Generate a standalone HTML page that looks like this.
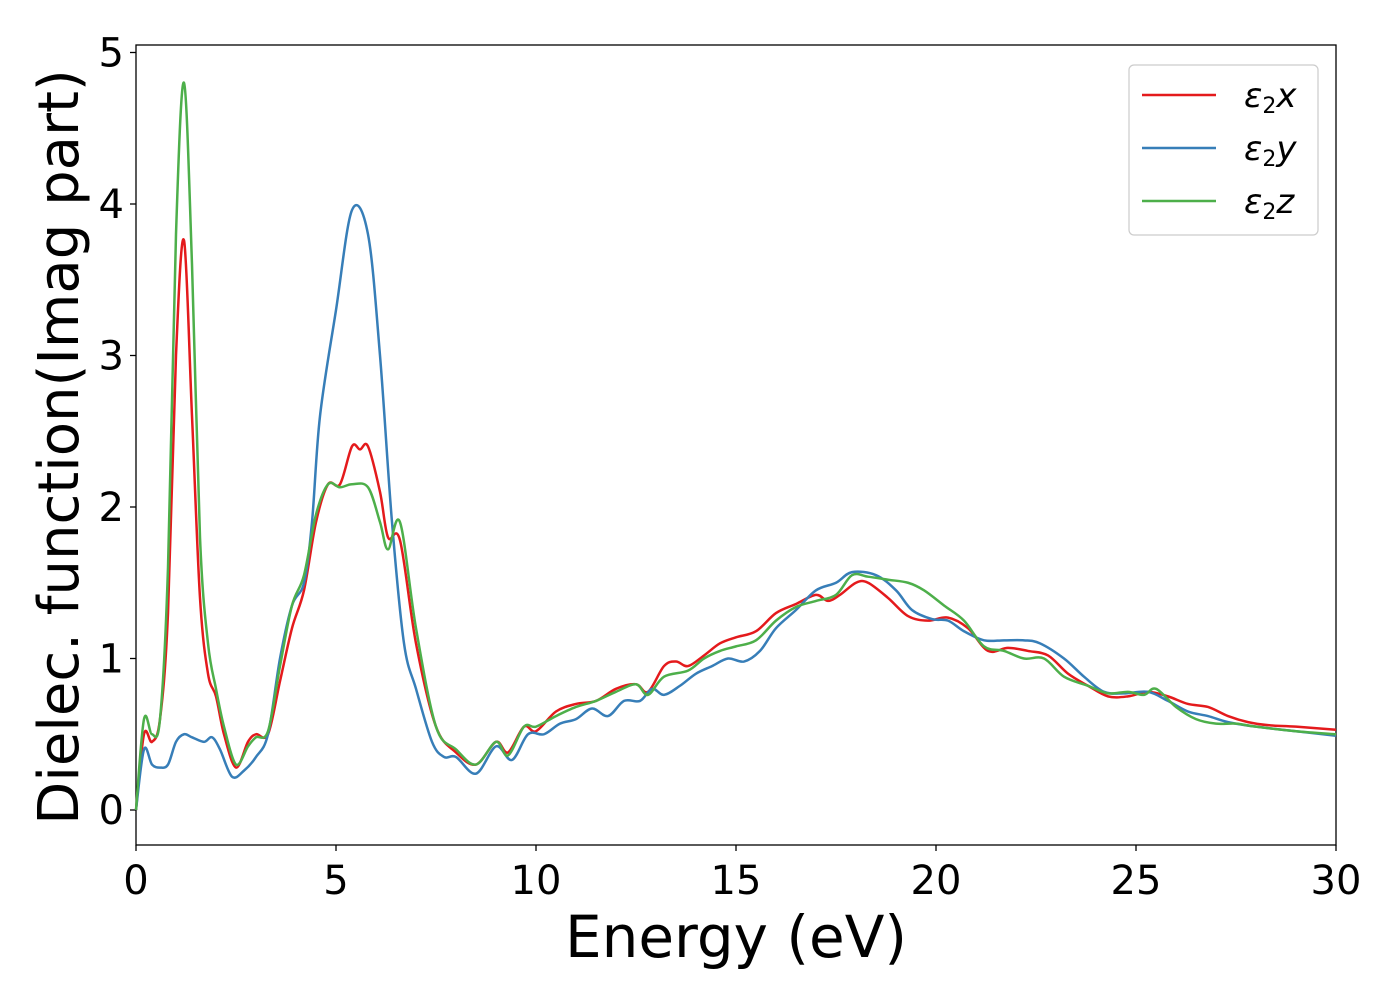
<!DOCTYPE html>
<html><head><meta charset="utf-8"><style>
body{margin:0;background:#fff;}
svg{display:block;font-family:"DejaVu Sans","Liberation Sans",sans-serif;}
</style></head><body>
<svg id="chart" width="1400" height="1000">
<rect x="136" y="45" width="1200" height="800" fill="none" stroke="#000" stroke-width="1.3"/>
<g id="ticks"></g>
<g id="lines"></g>
<text x="736" y="957" font-size="58" text-anchor="middle">Energy (eV)</text>
<text transform="translate(78,447) rotate(-90)" font-size="56" text-anchor="middle">Dielec. function(Imag part)</text>
<g>
<rect x="1129" y="65" width="189" height="170" rx="5" fill="#fff" stroke="#ccc" stroke-width="1.2"/>
<line x1="1142" y1="95" x2="1216" y2="95" stroke="#e41a1c" stroke-width="2.5"/>
<text x="1244" y="107" font-size="34" font-style="italic">ε<tspan font-size="22" dy="6" font-style="normal">2</tspan><tspan dy="-6">x</tspan></text>
<line x1="1142" y1="148" x2="1216" y2="148" stroke="#377eb8" stroke-width="2.5"/>
<text x="1244" y="160" font-size="34" font-style="italic">ε<tspan font-size="22" dy="6" font-style="normal">2</tspan><tspan dy="-6">y</tspan></text>
<line x1="1142" y1="201" x2="1216" y2="201" stroke="#4daf4a" stroke-width="2.5"/>
<text x="1244" y="213" font-size="34" font-style="italic">ε<tspan font-size="22" dy="6" font-style="normal">2</tspan><tspan dy="-6">z</tspan></text>
</g>
</svg>
<script>
const xTicks=[0,5,10,15,20,25,30];
const yTicks=[0,1,2,3,4,5];
const redE=[0,0.2,0.4,0.6,0.8,1.0,1.2,1.4,1.6,1.8,2.0,2.2,2.5,2.8,3.0,3.3,3.6,3.9,4.2,4.5,4.8,5.1,5.4,5.6,5.8,6.1,6.3,6.6,7.0,7.5,8.0,8.5,9.0,9.3,9.7,10,10.5,11,11.5,12,12.5,12.8,13.2,13.5,13.8,14.2,14.6,15,15.5,16,16.5,17,17.3,17.6,18.0,18.3,18.8,19.3,19.8,20.3,20.8,21.3,21.8,22.3,22.8,23.3,23.8,24.3,24.8,25.3,25.8,26.3,26.8,27.3,27.8,28.3,29,30];
const redV=[0,0.5,0.45,0.6,1.3,3.0,3.76,2.6,1.4,0.9,0.75,0.5,0.28,0.45,0.5,0.5,0.85,1.2,1.45,1.9,2.15,2.15,2.4,2.38,2.4,2.1,1.8,1.78,1.1,0.55,0.38,0.3,0.45,0.38,0.55,0.52,0.65,0.7,0.72,0.8,0.83,0.78,0.95,0.98,0.95,1.02,1.1,1.14,1.18,1.3,1.36,1.42,1.38,1.42,1.5,1.5,1.4,1.28,1.25,1.27,1.2,1.05,1.07,1.05,1.02,0.9,0.82,0.75,0.75,0.78,0.75,0.7,0.68,0.62,0.58,0.56,0.55,0.53];
const greenE=[0,0.2,0.4,0.6,0.8,1.0,1.2,1.4,1.6,1.8,2.0,2.2,2.5,2.8,3.0,3.3,3.6,3.9,4.2,4.5,4.8,5.1,5.4,5.8,6.1,6.3,6.6,7.0,7.5,8.0,8.5,9.0,9.3,9.7,10,10.5,11,11.5,12,12.5,12.8,13.2,13.8,14.2,14.6,15,15.5,16,16.5,17,17.5,17.9,18.3,18.8,19.3,19.7,20.2,20.7,21.2,21.7,22.2,22.7,23.2,23.8,24.3,24.8,25.2,25.5,26,26.5,27,27.5,28,29,30];
const greenV=[0,0.6,0.5,0.6,1.6,3.8,4.8,3.6,1.8,1.1,0.8,0.55,0.3,0.42,0.48,0.52,0.95,1.35,1.55,1.95,2.15,2.13,2.15,2.13,1.9,1.72,1.9,1.2,0.55,0.4,0.3,0.45,0.36,0.55,0.55,0.62,0.68,0.72,0.78,0.83,0.76,0.88,0.92,1.0,1.05,1.08,1.12,1.25,1.34,1.38,1.42,1.55,1.54,1.52,1.5,1.45,1.35,1.25,1.08,1.05,1.0,1.0,0.88,0.82,0.77,0.78,0.76,0.8,0.68,0.6,0.57,0.57,0.55,0.52,0.5];
const blueE=[0,0.2,0.4,0.6,0.8,1.0,1.2,1.4,1.7,1.9,2.1,2.4,2.7,3.0,3.3,3.6,3.9,4.2,4.4,4.6,5.0,5.4,5.8,6.1,6.4,6.7,7.0,7.4,7.7,8.0,8.5,9.0,9.4,9.8,10.2,10.6,11,11.4,11.8,12.2,12.6,12.9,13.2,13.6,14.0,14.4,14.8,15.2,15.6,16,16.5,17,17.5,17.9,18.5,19,19.4,19.9,20.3,20.7,21.2,21.7,22.2,22.6,23.2,23.7,24.2,24.7,25.3,25.8,26.3,26.8,27.3,28,29,30];
const blueV=[0,0.4,0.3,0.28,0.3,0.45,0.5,0.48,0.45,0.48,0.4,0.22,0.26,0.35,0.5,1.0,1.35,1.5,1.9,2.6,3.3,3.96,3.8,3.0,1.9,1.1,0.8,0.45,0.35,0.35,0.24,0.42,0.33,0.5,0.5,0.57,0.6,0.67,0.62,0.72,0.72,0.8,0.76,0.82,0.9,0.95,1.0,0.98,1.05,1.2,1.32,1.45,1.5,1.57,1.55,1.45,1.32,1.26,1.25,1.18,1.12,1.12,1.12,1.1,1.0,0.88,0.78,0.77,0.78,0.72,0.65,0.62,0.58,0.55,0.52,0.49];

const NS='http://www.w3.org/2000/svg';
const sx=e=>136+40*e;
const sy=v=>810-151.5*v;
const tg=document.getElementById('ticks');
xTicks.forEach(t=>{
  const l=document.createElementNS(NS,'line');
  l.setAttribute('x1',sx(t));l.setAttribute('x2',sx(t));l.setAttribute('y1',845);l.setAttribute('y2',851);
  l.setAttribute('stroke','#000');l.setAttribute('stroke-width','1.3');
  
  
  tg.appendChild(l);
  const tx=document.createElementNS(NS,'text');
  tx.setAttribute('x',sx(t));tx.setAttribute('y',894);tx.setAttribute('font-size','40');tx.setAttribute('text-anchor','middle');
  tx.textContent=t;
  
  
  tg.appendChild(tx);
});
yTicks.forEach(t=>{
  const l=document.createElementNS(NS,'line');
  l.setAttribute('x1',130);l.setAttribute('x2',136);l.setAttribute('y1',sy(t));l.setAttribute('y2',sy(t));
  l.setAttribute('stroke','#000');l.setAttribute('stroke-width','1.3');
  
  
  tg.appendChild(l);
  const tx=document.createElementNS(NS,'text');
  tx.setAttribute('x',124);tx.setAttribute('y',sy(t)+14);tx.setAttribute('font-size','40');tx.setAttribute('text-anchor','end');
  tx.textContent=t;
  
  
  tg.appendChild(tx);
});
function path(E,V){
  const p=E.map((e,i)=>[sx(e),sy(V[i])]);
  let d='M'+p[0][0]+','+p[0][1];
  for(let i=0;i<p.length-1;i++){
    const p0=p[Math.max(0,i-1)],p1=p[i],p2=p[i+1],p3=p[Math.min(p.length-1,i+2)];
    const c1=[p1[0]+(p2[0]-p0[0])/6,p1[1]+(p2[1]-p0[1])/6];
    const c2=[p2[0]-(p3[0]-p1[0])/6,p2[1]-(p3[1]-p1[1])/6];
    d+=' C'+c1+' '+c2+' '+p2;
  }
  return d;
}
const lg=document.getElementById('lines');
[[redE,redV,'#e41a1c','series-eps2x'],[blueE,blueV,'#377eb8','series-eps2y'],[greenE,greenV,'#4daf4a','series-eps2z']].forEach(s=>{
  const pa=document.createElementNS(NS,'path');
  pa.setAttribute('d',path(s[0],s[1]));
  pa.setAttribute('fill','none');pa.setAttribute('stroke',s[2]);pa.setAttribute('stroke-width','2.5');
  
  
  lg.appendChild(pa);
});
</script>
</body></html>
